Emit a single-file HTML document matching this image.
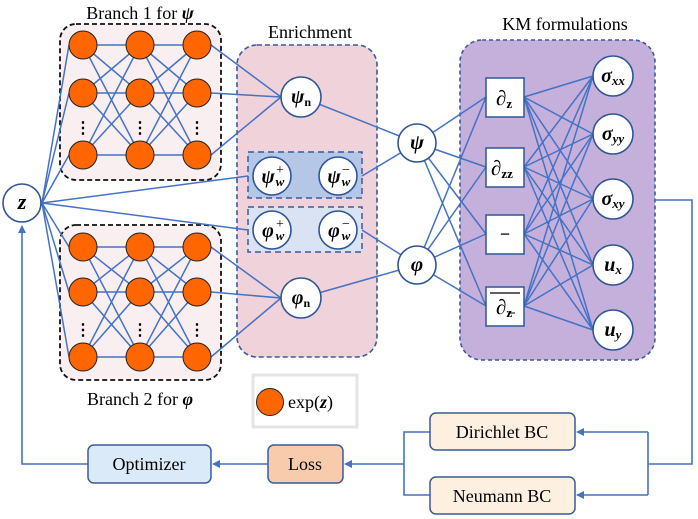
<!DOCTYPE html>
<html><head><meta charset="utf-8"><style>
html,body{margin:0;padding:0;background:#fff;}
svg{display:block;font-family:"Liberation Serif",serif;}
.b{font-weight:bold;font-style:italic;}
</style></head><body>
<svg width="698" height="519" viewBox="0 0 698 519" xmlns="http://www.w3.org/2000/svg">
<defs>
<marker id="ar" markerWidth="8" markerHeight="8" refX="7" refY="4" orient="auto" markerUnits="userSpaceOnUse">
<path d="M0,0 L8,4 L0,8 z" fill="#4472c4"/></marker>
</defs>
<rect x="60" y="24" width="161" height="156" rx="16" fill="#f9eff0" stroke="#111" stroke-width="1.8" stroke-dasharray="5,3"/>
<rect x="60" y="225" width="161" height="155" rx="16" fill="#f9eff0" stroke="#111" stroke-width="1.8" stroke-dasharray="5,3"/>
<rect x="237" y="45" width="140" height="312" rx="20" fill="#f0d3da" stroke="#3a5a9a" stroke-width="1.6" stroke-dasharray="5,3"/>
<rect x="248" y="152" width="114" height="46" fill="#b4c7e7" stroke="#3a5a9a" stroke-width="1.5" stroke-dasharray="6,4"/>
<rect x="248" y="207" width="114" height="45" fill="#dae3f3" stroke="#3a5a9a" stroke-width="1.5" stroke-dasharray="6,4"/>
<rect x="460" y="40" width="195" height="320" rx="22" fill="#c5b0dc" stroke="#3a5a9a" stroke-width="1.6" stroke-dasharray="4,3"/>
<rect x="253" y="375" width="104" height="52" fill="#fff" stroke="#e4e4e4" stroke-width="3"/>
<g stroke="#4472c4" stroke-width="1.5" fill="none" id="lines"></g>
<text x="140" y="19" font-size="18" text-anchor="middle">Branch 1 for <tspan class="b">ψ</tspan></text>
<text x="140" y="405" font-size="18" text-anchor="middle">Branch 2 for <tspan class="b">φ</tspan></text>
<text x="310" y="38" font-size="18" text-anchor="middle">Enrichment</text>
<text x="565" y="30" font-size="18" text-anchor="middle">KM formulations</text>
<g id="nodes"></g>
<g stroke="#4472c4" stroke-width="1.6" fill="none">
<polyline points="655,200 692,200 692,464 648,464"/>
<polyline points="648,432 648,495"/>
<line x1="648" y1="432" x2="577" y2="432" marker-end="url(#ar)"/>
<line x1="648" y1="495" x2="577" y2="495" marker-end="url(#ar)"/>
<polyline points="430,432 404,432 404,495 430,495"/>
<line x1="404" y1="464" x2="345" y2="464" marker-end="url(#ar)"/>
<line x1="268" y1="464" x2="213" y2="464" marker-end="url(#ar)"/>
<polyline points="88,464 22,464 22,226" marker-end="url(#ar)"/>
</g>
<rect x="430" y="413" width="145" height="37" rx="6" fill="#fdf0e0" stroke="#3a5a9a" stroke-width="1.5"/>
<rect x="430" y="477" width="145" height="37" rx="6" fill="#fdf0e0" stroke="#3a5a9a" stroke-width="1.5"/>
<rect x="268" y="445" width="75" height="38" rx="6" fill="#f8cbad" stroke="#3a5a9a" stroke-width="1.5"/>
<rect x="88" y="445" width="123" height="38" rx="6" fill="#dbeaf8" stroke="#3a5a9a" stroke-width="1.5"/>
<text x="502" y="438" font-size="18" text-anchor="middle">Dirichlet BC</text>
<text x="502" y="502" font-size="18" text-anchor="middle">Neumann BC</text>
<text x="305" y="470" font-size="18" text-anchor="middle">Loss</text>
<text x="149" y="470" font-size="18" text-anchor="middle">Optimizer</text>
<circle cx="270" cy="402" r="13.5" fill="#ff6600" stroke="#222" stroke-width="1"/>
<text x="288" y="408" font-size="18">exp(<tspan class="b">z</tspan>)</text>
</svg>
<script>
const NS="http://www.w3.org/2000/svg";
const L=document.getElementById('lines'),N=document.getElementById('nodes');
function ln(a,b,c,d){const e=document.createElementNS(NS,'line');e.setAttribute('x1',a);e.setAttribute('y1',b);e.setAttribute('x2',c);e.setAttribute('y2',d);L.appendChild(e);}
function el(t,at,txt){const e=document.createElementNS(NS,t);for(const k in at)e.setAttribute(k,at[k]);if(txt)e.innerHTML=txt;N.appendChild(e);return e;}
const cols=[83,140,197],r1=[45,93,155],r2=[247,292,357];
[r1,r2].forEach((rows,bi)=>{
 rows.forEach(y=>ln(42,203,cols[0]-14,y));
 for(let c=0;c<2;c++)rows.forEach(a=>rows.forEach(b=>ln(cols[c],a,cols[c+1],b)));
 const t=bi?[301,298]:[301,97];
 rows.forEach(y=>ln(cols[2]+14,y,t[0]-20,t[1]));
});
ln(42,203,248,176);ln(42,203,248,230);
ln(301,97,417,143);ln(362,176,417,143);ln(362,230,417,265);ln(301,298,417,265);
const bx=[97,167,234,306],oy=[76,134,199,265,330];
[143,265].forEach(y=>bx.forEach(b=>ln(417,y,486,b)));
bx.forEach(b=>oy.forEach(o=>ln(524,b,593,o)));
[r1,r2].forEach(rows=>{cols.forEach(x=>{rows.forEach(y=>el('circle',{cx:x,cy:y,r:14,fill:'#ff6600',stroke:'#222','stroke-width':1}));
 el('text',{x:x,y:rows===r1?133:335,'font-size':16,'text-anchor':'middle','font-weight':'bold'},'⋮');});});
function circ(x,y,r){el('circle',{cx:x,cy:y,r:r,fill:'#fff',stroke:'#2f5597','stroke-width':1.6});}
function cn(x,y,r,html,fs){circ(x,y,r);
 el('text',{x:x,y:y+6,'font-size':fs||20,'text-anchor':'middle','class':'b'},html);}
cn(22,203,19,'z',22);
cn(301,97,20,'ψ<tspan font-size="12" font-style="normal" dy="3">n</tspan>');
function wn(x,y,g,s){circ(x,y,19);
 el('text',{x:x-4,y:y+7,'font-size':20,'text-anchor':'middle','class':'b'},g);
 el('text',{x:x+8,y:y+10,'font-size':13,'text-anchor':'middle','class':'b'},'w');
 el('text',{x:x+8,y:y-2,'font-size':14,'text-anchor':'middle'},s);}
wn(272,176,'ψ','+');wn(338,176,'ψ','−');wn(272,230,'φ','+');wn(338,230,'φ','−');
cn(301,298,20,'φ<tspan font-size="12" font-style="normal" dy="3">n</tspan>');
cn(417,143,19,'ψ',21);cn(417,265,19,'φ',21);
const ol=['σ<tspan font-size="13" dy="3">xx</tspan>','σ<tspan font-size="13" dy="3">yy</tspan>','σ<tspan font-size="13" dy="3">xy</tspan>','u<tspan font-size="13" dy="3">x</tspan>','u<tspan font-size="13" dy="3">y</tspan>'];
oy.forEach((y,i)=>cn(613,y,20,ol[i],20));
const bt=[78,148,215,287];
const sub=['z','zz','',''];
bt.forEach((t,i)=>{el('rect',{x:486,y:t,width:38,height:39,fill:'#fff',stroke:'#2f5597','stroke-width':1.5});});
function dz(t,s,x0){el('text',{x:x0,y:t+27,'font-size':21,'font-weight':'bold'},'∂<tspan font-size="13" dy="3">'+s+'</tspan>');}
dz(78,'z',496);dz(148,'zz',491);dz(287,'z',496);
el('text',{x:505,y:240,'font-size':18,'text-anchor':'middle','font-weight':'bold'},'−');
el('line',{x1:490,y1:293,x2:520,y2:293,stroke:'#000','stroke-width':1.3});
el('line',{x1:508,y1:313,x2:515,y2:313,stroke:'#000','stroke-width':1});
</script>
</body></html>
